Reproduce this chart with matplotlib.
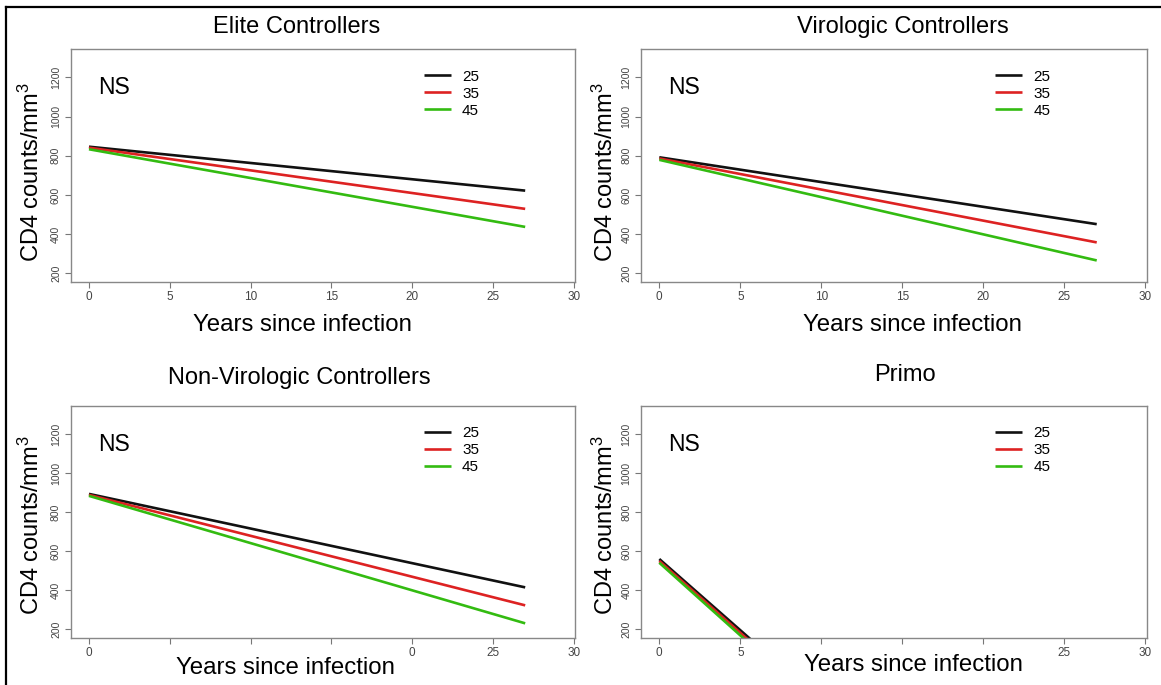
import matplotlib
matplotlib.use("Agg")

import matplotlib.pyplot as plt
from matplotlib.lines import Line2D


plt.rcParams["font.family"] = ["Liberation Sans", "DejaVu Sans"]
plt.rcParams["mathtext.fontset"] = "custom"
plt.rcParams["mathtext.rm"] = "Liberation Sans"
plt.rcParams["mathtext.default"] = "regular"


# age groups shown in every legend
ages = ["25", "35", "45"]
line_colors = ["#111111", "#dd2222", "#33bb11"]

# predicted CD4 trajectories (start / end of each straight line)
years = [0, 27]
elite = [[846, 622], [841, 529], [833, 437]]
virologic = [[792, 451], [786, 358], [779, 266]]
non_virologic = [[893, 415], [888, 323], [883, 231]]

primo_years = [0, 6]
primo = [[560, 123], [550, 109], [541, 95]]

x_ticks = [0, 5, 10, 15, 20, 25, 30]
y_ticks = [200, 400, 600, 800, 1000, 1200]

# tick labels as they can be read in each panel
full_xlabels = ["0", "5", "10", "15", "20", "25", "30"]
nvc_xlabels = ["0", "", "", "", "0", "25", "30"]
primo_xlabels = ["0", "5", "", "", "", "25", "30"]

panels = [
    # title, x data, y data, tick labels, axes rect, title pos, xlabel pos, ylabel pos
    ("Elite Controllers", years, elite, full_xlabels,
     [0.0609, 0.5883, 0.4346, 0.3401], (0.447, 1.094), (0.459, -0.185), (-0.079, 0.474)),
    ("Virologic Controllers", years, virologic, full_xlabels,
     [0.5521, 0.5883, 0.4358, 0.3401], (0.518, 1.094), (0.537, -0.185), (-0.071, 0.474)),
    ("Non-Virologic Controllers", years, non_virologic, nvc_xlabels,
     [0.0609, 0.0686, 0.4346, 0.3391], (0.453, 1.119), (0.425, -0.129), (-0.079, 0.486)),
    ("Primo", primo_years, primo, primo_xlabels,
     [0.5521, 0.0686, 0.4358, 0.3391], (0.521, 1.132), (0.539, -0.116), (-0.071, 0.486)),
]


fig = plt.figure(figsize=(11.61, 6.85), dpi=100)

for title, xs, series, xlabels, rect, tpos, xlpos, ylpos in panels:

    ax = fig.add_axes(rect)

    for age, color, values in zip(ages, line_colors, series):
        ax.plot(xs, values, color=color, linewidth=1.9, label=age,
                solid_capstyle="butt")

    ax.set_xlim(-1.13, 30.1)
    ax.set_ylim(156, 1344)

    ax.set_xticks(x_ticks)
    ax.set_xticklabels(xlabels)
    ax.set_yticks(y_ticks)
    ax.set_yticklabels([str(v) for v in y_ticks], rotation=90, va="center")

    ax.tick_params(axis="x", length=4, width=0.8, color="#777777",
                   labelcolor="#444444", labelsize=8.5, pad=2.5)
    ax.tick_params(axis="y", length=4, width=0.8, color="#777777",
                   labelcolor="#444444", labelsize=7.5, pad=3)

    for spine in ax.spines.values():
        spine.set_color("#888888")
        spine.set_linewidth(1.0)

    ax.text(tpos[0], tpos[1], title, transform=ax.transAxes,
            ha="center", va="center", fontsize=17)

    ax.set_xlabel("Years since infection", fontsize=17.3, va="center")
    ax.xaxis.set_label_coords(*xlpos)
    ax.set_ylabel(r"CD4 counts/mm$^{3}$", fontsize=17, va="center")
    ax.yaxis.set_label_coords(*ylpos)

    ax.text(0.56, 1147, "NS", ha="left", va="center", fontsize=16.5)

    ax.legend(loc="upper left", bbox_to_anchor=(0.70, 0.912),
              frameon=False, fontsize=11, handlelength=1.75,
              handletextpad=0.75, labelspacing=0.2,
              borderpad=0, borderaxespad=0)

# black frame of the original screenshot (top and left)
fig.add_artist(Line2D([0.005, 1.0], [0.990, 0.990],
                      transform=fig.transFigure, color="black", linewidth=1.6))
fig.add_artist(Line2D([0.0055, 0.0055], [0.0, 0.990],
                      transform=fig.transFigure, color="black", linewidth=1.6))

fig.savefig("out.png", dpi=100)
